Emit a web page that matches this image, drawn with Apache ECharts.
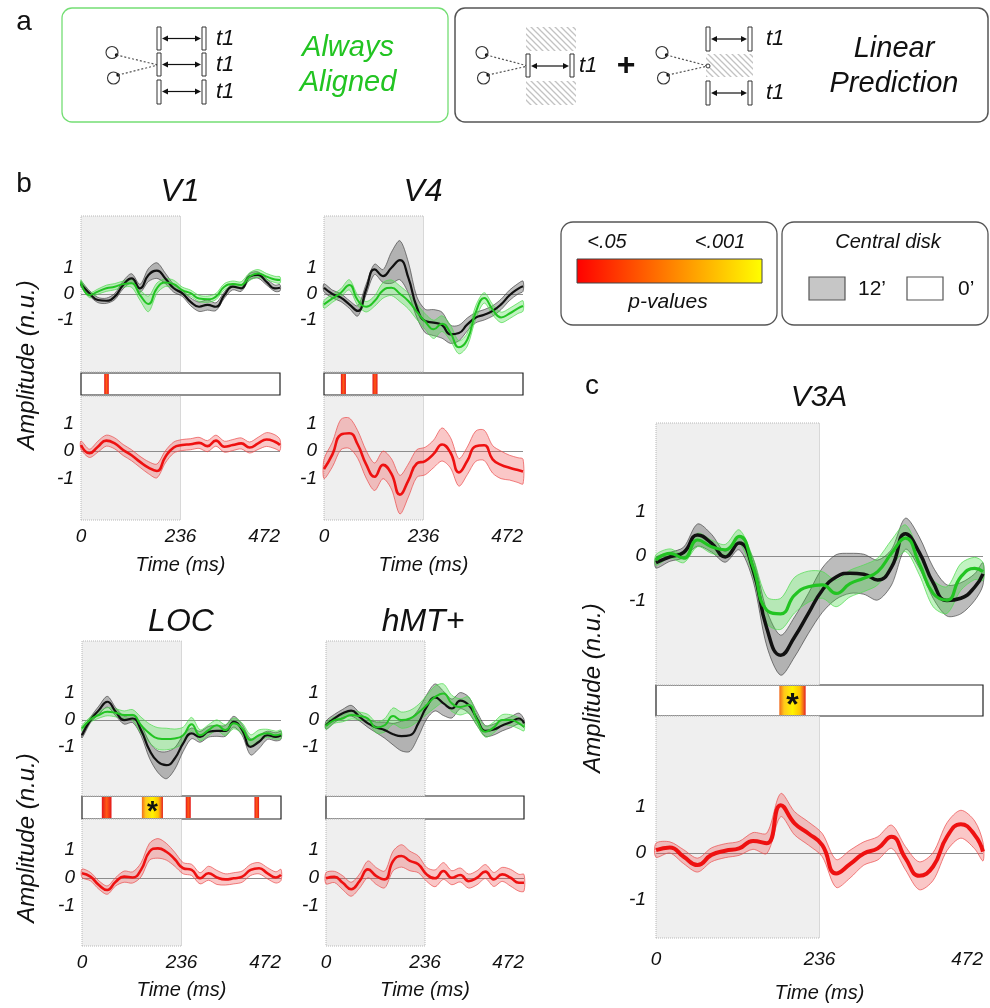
<!DOCTYPE html>
<html>
<head>
<meta charset="utf-8">
<script src="https://cdn.jsdelivr.net/npm/echarts@6.0.0/dist/echarts.min.js"></script>
<style>
  html, body { margin: 0; padding: 0; background: #fff; }
  #chart { width: 990px; height: 1008px; }
</style>
</head>
<body>
<div id="chart"></div>
<script>
// time samples (ms)
var T = [0, 20, 40, 60, 80, 100, 120, 140, 160, 180, 200, 220, 240, 260, 280, 300, 320, 340, 360, 380, 400, 420, 440, 460, 472];
var xTicks = [0, 236, 472];
var yTicks = [-1, 0, 1];

// V1
var v1Black   = [0.38, 0.03, -0.23, -0.26, -0.1, 0.35, 0.6, 0.22, 0.73, 0.9, 0.6, 0.22, 0.03, -0.3, -0.49, -0.42, -0.49, -0.04, 0.28, 0.22, 0.67, 0.73, 0.47, 0.22, 0.24];
var v1BlackSe = [0.1, 0.1, 0.1, 0.1, 0.12, 0.15, 0.18, 0.15, 0.25, 0.3, 0.2, 0.15, 0.12, 0.15, 0.18, 0.2, 0.15, 0.12, 0.12, 0.12, 0.12, 0.12, 0.12, 0.12, 0.12];
var v1Green   = [0.44, -0.04, 0.09, 0.22, 0.28, 0.38, 0.41, -0.04, -0.38, 0.22, 0.44, 0.38, 0.15, 0.03, -0.17, -0.2, -0.1, 0.28, 0.38, 0.35, 0.67, 0.79, 0.67, 0.56, 0.54];
var v1GreenSe = [0.1, 0.1, 0.1, 0.12, 0.12, 0.12, 0.15, 0.2, 0.3, 0.2, 0.15, 0.15, 0.12, 0.12, 0.12, 0.12, 0.12, 0.12, 0.12, 0.12, 0.15, 0.15, 0.12, 0.12, 0.12];
var v1Red     = [0.22, -0.08, 0.16, 0.38, 0.28, 0.04, -0.15, -0.39, -0.6, -0.72, -0.21, 0.13, 0.22, 0.25, 0.3, 0.18, 0.38, 0.16, 0.22, 0.28, 0.13, 0.28, 0.42, 0.34, 0.22];
var v1RedSe   = [0.15, 0.15, 0.2, 0.2, 0.2, 0.2, 0.2, 0.2, 0.22, 0.25, 0.22, 0.2, 0.2, 0.2, 0.2, 0.2, 0.2, 0.2, 0.2, 0.2, 0.2, 0.22, 0.25, 0.25, 0.2];
var v1Sig     = [[55, 66, 0]];

// V4
var v4Black   = [0.24, 0.0, -0.14, -0.4, -0.65, 0.18, 0.95, 0.69, 1.01, 1.3, 0.63, -0.5, -1.04, -1.1, -1.2, -1.55, -1.5, -1.17, -0.91, -0.8, -0.65, -0.4, -0.05, 0.2, 0.3];
var v4BlackSe = [0.15, 0.15, 0.15, 0.15, 0.2, 0.2, 0.2, 0.25, 0.6, 0.75, 0.6, 0.4, 0.45, 0.5, 0.5, 0.35, 0.3, 0.25, 0.2, 0.2, 0.2, 0.2, 0.2, 0.2, 0.2];
var v4Green   = [-0.4, -0.17, 0.05, 0.35, -0.24, -0.49, -0.27, 0.14, 0.24, 0.01, -0.27, -0.68, -1.06, -1.36, -1.14, -1.5, -2.05, -1.75, -0.7, -0.15, -0.6, -0.9, -0.75, -0.55, -0.46];
var v4GreenSe = [0.15, 0.15, 0.15, 0.2, 0.2, 0.2, 0.2, 0.3, 0.3, 0.3, 0.3, 0.3, 0.3, 0.35, 0.3, 0.3, 0.25, 0.25, 0.25, 0.2, 0.2, 0.2, 0.2, 0.2, 0.2];
var v4Red     = [-0.65, -0.12, 0.6, 0.65, 0.24, -0.48, -0.93, -0.5, -0.83, -1.58, -1.07, -0.45, -0.36, -0.1, 0.24, -0.06, -0.77, -0.35, 0.18, 0.21, -0.3, -0.5, -0.6, -0.69, -0.74];
var v4RedSe   = [0.35, 0.45, 0.55, 0.55, 0.5, 0.5, 0.5, 0.5, 0.55, 0.7, 0.6, 0.5, 0.5, 0.5, 0.6, 0.55, 0.5, 0.5, 0.55, 0.55, 0.5, 0.5, 0.45, 0.45, 0.45];
var v4Sig     = [[40, 52, 0], [115, 127, 0]];

// LOC
var locBlack   = [-0.56, 0, 0.37, 0.68, 0.31, 0, 0.06, -0.37, -1.11, -1.54, -1.67, -1.42, -0.86, -0.49, -0.62, -0.43, -0.4, -0.4, -0.06, -0.37, -0.99, -0.8, -0.56, -0.62, -0.56];
var locBlackSe = [0.1, 0.1, 0.15, 0.2, 0.15, 0.15, 0.15, 0.2, 0.3, 0.4, 0.5, 0.4, 0.3, 0.2, 0.2, 0.2, 0.2, 0.2, 0.2, 0.2, 0.3, 0.25, 0.15, 0.15, 0.15];
var locGreen   = [-0.31, 0.02, 0.19, 0.31, 0.27, 0.19, 0.19, -0.19, -0.49, -0.68, -0.7, -0.68, -0.56, -0.15, -0.56, -0.37, -0.19, -0.37, -0.12, -0.31, -0.74, -0.56, -0.49, -0.56, -0.52];
var locGreenSe = [0.1, 0.1, 0.12, 0.15, 0.15, 0.15, 0.2, 0.3, 0.35, 0.4, 0.4, 0.35, 0.3, 0.25, 0.2, 0.2, 0.2, 0.2, 0.2, 0.2, 0.2, 0.2, 0.15, 0.15, 0.15];
var locRed     = [0.17, 0.05, -0.25, -0.43, -0.13, 0.05, 0.02, 0.29, 0.94, 1.06, 0.94, 0.67, 0.35, 0.29, -0.01, 0.17, 0.02, -0.05, -0.01, 0.05, 0.29, 0.35, 0.17, 0.02, 0.11];
var locRedSe   = [0.15, 0.15, 0.15, 0.15, 0.15, 0.2, 0.2, 0.25, 0.3, 0.35, 0.3, 0.25, 0.2, 0.2, 0.2, 0.25, 0.25, 0.2, 0.2, 0.2, 0.2, 0.2, 0.2, 0.2, 0.2];
var locSig     = [[47, 70, 0], [142, 192, 1], [246, 258, 0], [409, 420, 0]];

// hMT+
var mtBlack   = [-0.19, 0.06, 0.25, 0.35, 0.12, -0.12, -0.27, -0.37, -0.52, -0.59, -0.56, -0.12, 0.49, 0.84, 0.62, 0.43, 0.72, 0.56, 0.05, -0.4, -0.35, -0.2, -0.08, 0.06, -0.12];
var mtBlackSe = [0.15, 0.15, 0.15, 0.2, 0.15, 0.15, 0.2, 0.3, 0.4, 0.55, 0.6, 0.5, 0.45, 0.5, 0.45, 0.35, 0.3, 0.3, 0.25, 0.2, 0.2, 0.2, 0.2, 0.2, 0.15];
var mtGreen   = [-0.22, 0, 0.06, 0.19, 0.15, 0.06, -0.27, -0.19, 0.15, 0, 0.06, 0.27, 0.56, 0.86, 0.99, 0.62, 0.49, 0.56, 0, -0.43, -0.27, 0, 0, -0.12, -0.25];
var mtGreenSe = [0.12, 0.12, 0.12, 0.15, 0.15, 0.15, 0.2, 0.25, 0.3, 0.3, 0.3, 0.3, 0.35, 0.4, 0.35, 0.3, 0.3, 0.3, 0.2, 0.2, 0.2, 0.2, 0.2, 0.2, 0.15];
var mtRed     = [-0.01, 0.04, -0.17, -0.4, -0.11, 0.31, 0.07, -0.05, 0.61, 0.79, 0.61, 0.49, 0.13, -0.01, 0.25, 0.01, 0.11, -0.11, 0.01, 0.23, -0.05, 0.13, 0.01, -0.17, -0.17];
var mtRedSe   = [0.2, 0.2, 0.25, 0.25, 0.25, 0.3, 0.3, 0.3, 0.35, 0.4, 0.35, 0.3, 0.25, 0.3, 0.3, 0.25, 0.25, 0.25, 0.25, 0.25, 0.25, 0.25, 0.3, 0.3, 0.3];
var mtSig     = [];

// V3A
var v3aBlack   = [-0.15, -0.02, 0.08, 0.47, 0.29, -0.02, 0.29, -0.3, -1.63, -2.23, -1.82, -1.29, -0.77, -0.47, -0.39, -0.41, -0.54, -0.25, 0.5, 0.08, -0.6, -1.0, -0.95, -0.7, -0.4];
var v3aBlackSe = [0.12, 0.1, 0.12, 0.25, 0.2, 0.12, 0.15, 0.25, 0.4, 0.45, 0.45, 0.45, 0.5, 0.5, 0.45, 0.45, 0.45, 0.4, 0.35, 0.35, 0.35, 0.35, 0.35, 0.3, 0.25];
var v3aGreen   = [-0.09, 0.06, -0.05, 0.36, 0.21, 0.14, 0.44, -0.24, -1.22, -1.3, -0.88, -0.69, -0.65, -0.84, -0.62, -0.5, -0.35, 0.06, 0.4, -0.17, -0.84, -0.99, -0.47, -0.28, -0.35];
var v3aGreenSe = [0.12, 0.1, 0.1, 0.15, 0.15, 0.12, 0.15, 0.2, 0.3, 0.35, 0.4, 0.35, 0.3, 0.3, 0.3, 0.3, 0.3, 0.3, 0.3, 0.25, 0.3, 0.3, 0.3, 0.25, 0.2];
var v3aRed     = [0.06, 0.12, -0.08, -0.26, -0.04, 0.05, 0.1, 0.26, 0.21, 1.03, 0.64, 0.42, 0.17, -0.44, -0.24, -0.01, 0.1, 0.35, -0.11, -0.49, -0.29, 0.35, 0.62, 0.39, 0.03];
var v3aRedSe   = [0.15, 0.12, 0.15, 0.15, 0.15, 0.15, 0.15, 0.18, 0.22, 0.25, 0.25, 0.25, 0.25, 0.3, 0.3, 0.25, 0.25, 0.25, 0.25, 0.3, 0.3, 0.3, 0.3, 0.3, 0.2];
var v3aSig     = [[178, 216, 1]];

var FONT = '"Liberation Sans", Arial, sans-serif';
var GREEN = '#22c422';
var RED = '#ee1111';

// layout of each panel: grid x range, three stacked grids (top, p-value strip, bottom)
var panels = [
  { title: 'V1', tx: 180, ty: 192, x0: 81, x1: 280, top: [216, 372], topY: [-3, 3], strip: [373, 395], bot: [396, 520], botY: [-2.5, 2], timeY: 565, lm: 7, ym: 7, big: false,
    d: [v1Black, v1BlackSe, v1Green, v1GreenSe, v1Red, v1RedSe], sig: v1Sig },
  { title: 'V4', tx: 423, ty: 192, x0: 324, x1: 523, top: [216, 372], topY: [-3, 3], strip: [373, 395], bot: [396, 520], botY: [-2.5, 2], timeY: 565, lm: 7, ym: 7, big: false,
    d: [v4Black, v4BlackSe, v4Green, v4GreenSe, v4Red, v4RedSe], sig: v4Sig },
  { title: 'LOC', tx: 181, ty: 622, x0: 82, x1: 281, top: [641, 796], topY: [-2.81, 2.93], strip: [796, 819], bot: [819, 946], botY: [-2.43, 2.11], timeY: 990, lm: 7, ym: 7, big: false,
    d: [locBlack, locBlackSe, locGreen, locGreenSe, locRed, locRedSe], sig: locSig },
  { title: 'hMT+', tx: 423, ty: 622, x0: 326, x1: 524, top: [641, 796], topY: [-2.81, 2.93], strip: [796, 819], bot: [819, 946], botY: [-2.43, 2.11], timeY: 990, lm: 7, ym: 7, big: false,
    d: [mtBlack, mtBlackSe, mtGreen, mtGreenSe, mtRed, mtRedSe], sig: mtSig },
  { title: 'V3A', tx: 819, ty: 398, x0: 656, x1: 983, top: [423, 685], topY: [-2.9, 2.99], strip: [685, 716], bot: [716, 938], botY: [-1.83, 2.95], timeY: 993, lm: 12, ym: 10, big: true,
    d: [v3aBlack, v3aBlackSe, v3aGreen, v3aGreenSe, v3aRed, v3aRedSe], sig: v3aSig }
];

function zip(vals) { return T.map(function (t, i) { return [t, vals[i]]; }); }

var redGrad = new echarts.graphic.LinearGradient(0, 0, 1, 0, [
  { offset: 0, color: '#e3161b' }, { offset: 0.5, color: '#ff5a14' }, { offset: 1, color: '#e3161b' }]);
var yelGrad = new echarts.graphic.LinearGradient(0, 0, 1, 0, [
  { offset: 0, color: '#f26b1d' }, { offset: 0.18, color: '#ffc81a' }, { offset: 0.5, color: '#fff200' },
  { offset: 0.78, color: '#ffc400' }, { offset: 0.9, color: '#f5701a' }, { offset: 1, color: '#e01f1f' }]);

function stripRender(big) {
  return function (params, api) {
    var a = api.coord([api.value(0), 1]);
    var b = api.coord([api.value(1), 0]);
    var w = b[0] - a[0], h = b[1] - a[1];
    var kids = [{ type: 'rect', shape: { x: a[0], y: a[1] + 1, width: w, height: h - 2 },
      style: { fill: api.value(2) === 1 ? yelGrad : redGrad } }];
    if (api.value(2) === 1) {
      kids.push({ type: 'text', style: { text: '*', x: a[0] + w / 2, y: a[1] + h / 2 + (big ? 6 : 5),
        font: 'bold ' + (big ? 32 : 28) + 'px ' + FONT, fill: '#111', align: 'center', verticalAlign: 'middle' } });
    }
    return { type: 'group', children: kids };
  };
}

var grids = [], xAxes = [], yAxes = [], series = [];

function addGrid(p, y0, y1, yr, opts) {
  var gi = grids.length;
  grids.push({ left: p.x0, top: y0, width: p.x1 - p.x0, height: y1 - y0, containLabel: false, outerBoundsMode: 'none',
    show: !!opts.strip, backgroundColor: '#fff', borderColor: '#222', borderWidth: 1.2 });
  xAxes.push({ type: 'value', gridIndex: gi, min: 0, max: 472, show: !!opts.xlab,
    axisLine: { show: false }, axisTick: { show: false }, splitLine: { show: false },
    axisLabel: { customValues: xTicks, margin: p.lm, color: '#111', fontSize: 19, fontStyle: 'italic', fontFamily: FONT,
      alignMaxLabel: 'right' } });
  yAxes.push({ type: 'value', gridIndex: gi, min: yr[0], max: yr[1], show: !opts.strip,
    axisLine: { show: false }, axisTick: { show: false }, splitLine: { show: false },
    axisLabel: { customValues: yTicks, margin: p.ym, color: '#111', fontSize: 19, fontStyle: 'italic', fontFamily: FONT } });
  return gi;
}

function marks() {
  return {
    markArea: { silent: true, z: 1, itemStyle: { color: '#efefef', borderColor: '#b8b8b8', borderWidth: 1, borderType: 'dotted' },
      data: [[{ xAxis: 0 }, { xAxis: 236 }]] },
    markLine: { silent: true, z: 2, symbol: 'none', label: { show: false }, emphasis: { disabled: true },
      lineStyle: { color: '#8c8c8c', width: 1, type: 'solid' }, data: [{ yAxis: 0 }] }
  };
}

// mean +/- se band, drawn as one smoothed polygon through the axis coordinates
function band(gi, m, s, fill, edge) {
  series.push({ type: 'custom', xAxisIndex: gi, yAxisIndex: gi, data: [[0, 0]], encode: { x: 0, y: 1 },
    silent: true, z: 2,
    renderItem: function (params, api) {
      var pts = [];
      for (var i = 0; i < T.length; i++) pts.push(api.coord([T[i], m[i] + s[i]]));
      for (var j = T.length - 1; j >= 0; j--) pts.push(api.coord([T[j], m[j] - s[j]]));
      return { type: 'polygon', shape: { points: pts, smooth: 0.3 },
        style: { fill: fill, stroke: edge, lineWidth: 0.8 } };
    } });
}

function mean(gi, vals, color, w, withMarks) {
  var s = { type: 'line', xAxisIndex: gi, yAxisIndex: gi, data: zip(vals), symbol: 'none', smooth: 0.5,
    silent: true, z: 3, lineStyle: { color: color, width: w } };
  if (withMarks) Object.assign(s, marks());
  series.push(s);
}

panels.forEach(function (p) {
  var g1 = addGrid(p, p.top[0], p.top[1], p.topY, {});
  var g2 = addGrid(p, p.strip[0], p.strip[1], [0, 1], { strip: true });
  var g3 = addGrid(p, p.bot[0], p.bot[1], p.botY, { xlab: true });
  band(g1, p.d[0], p.d[1], 'rgba(70,70,70,0.36)', 'rgba(60,60,60,0.8)');
  mean(g1, p.d[0], '#111', p.big ? 3.5 : 2.2, true);
  band(g1, p.d[2], p.d[3], 'rgba(50,215,50,0.30)', 'rgba(80,220,80,0.9)');
  mean(g1, p.d[2], GREEN, p.big ? 3.2 : 2, false);
  series.push({ type: 'custom', xAxisIndex: g2, yAxisIndex: g2, data: p.sig, encode: { x: [0, 1] },
    renderItem: stripRender(p.big), silent: true, z: 3 });
  band(g3, p.d[4], p.d[5], 'rgba(240,70,70,0.30)', 'rgba(235,80,80,0.9)');
  mean(g3, p.d[4], RED, p.big ? 4 : 2.6, true);
});

// ---- graphic: panel a schematics, legends, titles ----
var hatch = document.createElement('canvas');
hatch.width = 6; hatch.height = 6;
var hc = hatch.getContext('2d');
hc.strokeStyle = '#c2c2c2'; hc.lineWidth = 1.3;
hc.beginPath();
hc.moveTo(-3, 3); hc.lineTo(3, 9);
hc.moveTo(0, 0); hc.lineTo(6, 6);
hc.moveTo(3, -3); hc.lineTo(9, 3);
hc.stroke();
var hatchFill = { image: hatch, repeat: 'repeat' };

var gfx = [];
function txt(s, x, y, size, opts) {
  opts = opts || {};
  gfx.push({ type: 'text', x: x, y: y, rotation: opts.rot || 0, silent: true,
    style: { text: s, x: 0, y: 0, fill: opts.color || '#111', align: opts.align || 'center', verticalAlign: 'middle',
      font: (opts.style || 'italic') + ' ' + size + 'px ' + FONT } });
}
function box(x, y, w, h, stroke, lw, r, fill) {
  gfx.push({ type: 'rect', silent: true, shape: { x: x, y: y, width: w, height: h, r: r || 0 },
    style: { fill: fill || 'none', stroke: stroke, lineWidth: lw } });
}
function arrow(x1, x2, y) {
  gfx.push({ type: 'line', silent: true, shape: { x1: x1 + 5, y1: y, x2: x2 - 5, y2: y }, style: { stroke: '#111', lineWidth: 1.2 } });
  gfx.push({ type: 'polygon', silent: true, shape: { points: [[x1, y], [x1 + 6, y - 3], [x1 + 6, y + 3]] }, style: { fill: '#111' } });
  gfx.push({ type: 'polygon', silent: true, shape: { points: [[x2, y], [x2 - 6, y - 3], [x2 - 6, y + 3]] }, style: { fill: '#111' } });
}
function eyes(cx, jx, jy) {
  [[cx, 52.5, 4.5, 2.5], [cx + 1.5, 78, 4.5, -3]].forEach(function (e) {
    gfx.push({ type: 'circle', silent: true, shape: { cx: e[0], cy: e[1], r: 6 }, style: { fill: 'none', stroke: '#333', lineWidth: 1.1 } });
    gfx.push({ type: 'circle', silent: true, shape: { cx: e[0] + e[2], cy: e[1] + e[3], r: 1.7 }, style: { fill: '#111' } });
    gfx.push({ type: 'line', silent: true, shape: { x1: e[0] + e[2], y1: e[1] + e[3], x2: jx, y2: jy },
      style: { stroke: '#555', lineWidth: 1.2, lineDash: [2, 2] } });
  });
}
function bar(x, y, h) { box(x, y, 4, h, '#333', 1, 0, '#fff'); }

// panel a
txt('a', 24, 22, 28, { style: 'normal' });
box(62, 8, 386, 114, '#74de74', 1.3, 10);
box(455, 8, 533, 114, '#555', 1.5, 10);
eyes(112, 158, 65);
[[27, 23, 38.5], [53, 23, 64.5], [80, 24, 91.5]].forEach(function (r) {
  bar(157, r[0], r[1]); bar(202, r[0], r[1]); arrow(162, 201, r[2]); txt('t1', 216, r[2], 22, { align: 'left' });
});
txt('Always', 348, 48, 29, { color: GREEN });
txt('Aligned', 348, 83, 29, { color: GREEN });

gfx.push({ type: 'rect', silent: true, shape: { x: 526, y: 27, width: 50, height: 24 }, style: { fill: hatchFill } });
gfx.push({ type: 'rect', silent: true, shape: { x: 526, y: 81, width: 50, height: 24 }, style: { fill: hatchFill } });
eyes(482, 528, 66);
bar(526, 54, 23); bar(570, 54, 23); arrow(531, 569, 66);
txt('t1', 579, 66, 22, { align: 'left' });
txt('+', 626, 66, 32, { style: 'bold' });
gfx.push({ type: 'rect', silent: true, shape: { x: 706, y: 54, width: 47, height: 23 }, style: { fill: hatchFill } });
eyes(662, 708, 66);
gfx.push({ type: 'circle', silent: true, shape: { cx: 708, cy: 66, r: 2 }, style: { fill: '#fff', stroke: '#333', lineWidth: 1 } });
[[27, 39], [81, 93]].forEach(function (r) {
  bar(706, r[0], 24); bar(748, r[0], 24); arrow(711, 747, r[1]); txt('t1', 766, r[1], 22, { align: 'left' });
});
txt('Linear', 894, 49, 29);
txt('Prediction', 894, 84, 29);

// panel labels and legends
txt('b', 24, 184, 28, { style: 'normal' });
txt('c', 592, 386, 28, { style: 'normal' });
box(561, 222, 216, 103, '#555', 1.3, 12);
box(782, 222, 206, 103, '#555', 1.3, 12);
txt('<.05', 607, 242, 20);
txt('<.001', 720, 242, 20);
gfx.push({ type: 'rect', silent: true, shape: { x: 577, y: 259, width: 185, height: 24 },
  style: { stroke: '#444', lineWidth: 1, fill: new echarts.graphic.LinearGradient(0, 0, 1, 0, [
    { offset: 0, color: '#ff0000' }, { offset: 0.5, color: '#ff8000' }, { offset: 1, color: '#ffff00' }]) } });
txt('p-values', 668, 302, 21);
txt('Central disk', 888, 242, 20);
box(809, 277, 36, 23, '#555', 1.2, 0, '#c6c6c6');
txt('12\u2019', 858, 289, 21, { style: 'normal', align: 'left' });
box(907, 277, 36, 23, '#555', 1.2, 0, '#fff');
txt('0\u2019', 958, 289, 21, { style: 'normal', align: 'left' });

// titles and axis names
panels.forEach(function (p) {
  txt(p.title, p.tx, p.ty, p.big ? 30 : 32);
  txt('Time (ms)', (p.x0 + p.x1) / 2, p.timeY, 20);
});
txt('Amplitude (n.u.)', 27, 365, 24, { rot: Math.PI / 2 });
txt('Amplitude (n.u.)', 27, 838, 24, { rot: Math.PI / 2 });
txt('Amplitude (n.u.)', 593, 688, 24, { rot: Math.PI / 2 });

var chart = echarts.init(document.getElementById('chart'));
chart.setOption({
  animation: false,
  backgroundColor: '#fff',
  grid: grids,
  xAxis: xAxes,
  yAxis: yAxes,
  series: series,
  graphic: { elements: gfx }
});
</script>
</body>
</html>
